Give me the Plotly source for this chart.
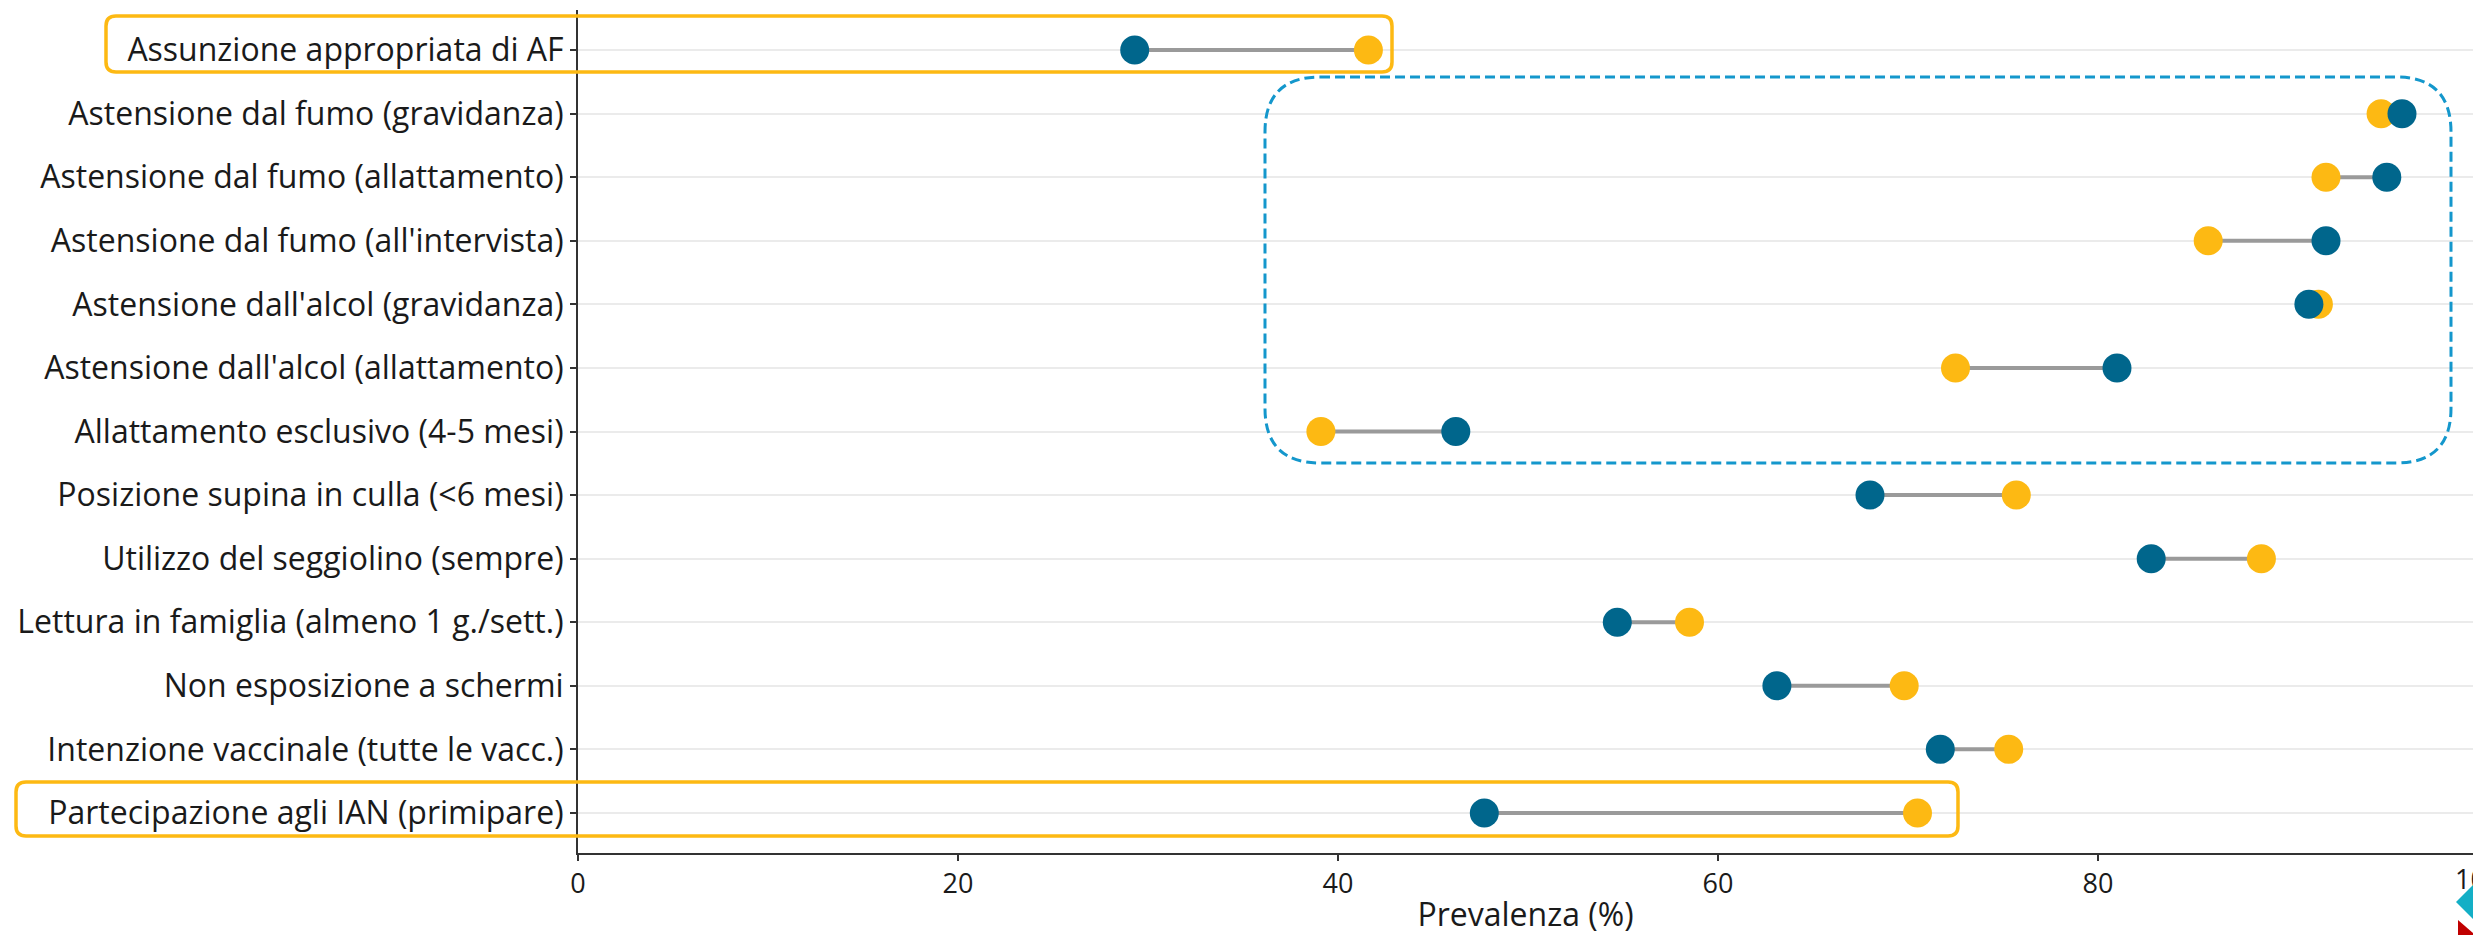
import plotly.graph_objects as go

# ---------------- data ----------------
categories = [
    "Assunzione appropriata di AF",
    "Astensione dal fumo (gravidanza)",
    "Astensione dal fumo (allattamento)",
    "Astensione dal fumo (all'intervista)",
    "Astensione dall'alcol (gravidanza)",
    "Astensione dall'alcol (allattamento)",
    "Allattamento esclusivo (4-5 mesi)",
    "Posizione supina in culla (<6 mesi)",
    "Utilizzo del seggiolino (sempre)",
    "Lettura in famiglia (almeno 1 g./sett.)",
    "Non esposizione a schermi",
    "Intenzione vaccinale (tutte le vacc.)",
    "Partecipazione agli IAN (primipare)",
]
serie_blu = [29.3, 96.0, 95.2, 92.0, 91.1, 81.0, 46.2, 68.0, 82.8, 54.7, 63.1, 71.7, 47.7]
serie_arancio = [41.6, 94.9, 92.0, 85.8, 91.6, 72.5, 39.1, 75.7, 88.6, 58.5, 69.8, 75.3, 70.5]
x_ticks = [0, 20, 40, 60, 80]
x_title = "Prevalenza (%)"

# ---------------- style / geometry ----------------
W, H = 2473, 935
ML, MR, MT, MB = 578, 0, 10, 82
PX_PER_UNIT = 19.0
BLUE = "#00668C"
ORANGE = "#FDB913"
FONT = "Open Sans"
TXT = "#1a1a1a"

pw = W - ML - MR
ph = H - MT - MB


def to_paper(x, y):
    return (x - ML) / pw, (H - MB - y) / ph


def rrect_path(x0, y0, x1, y1, r):
    pts = [
        ("M", [(x0 + r, y0)]),
        ("L", [(x1 - r, y0)]),
        ("Q", [(x1, y0), (x1, y0 + r)]),
        ("L", [(x1, y1 - r)]),
        ("Q", [(x1, y1), (x1 - r, y1)]),
        ("L", [(x0 + r, y1)]),
        ("Q", [(x0, y1), (x0, y1 - r)]),
        ("L", [(x0, y0 + r)]),
        ("Q", [(x0, y0), (x0 + r, y0)]),
    ]
    s = ""
    for cmd, pl in pts:
        s += cmd + " " + " ".join("%.5f,%.5f" % to_paper(px, py) for px, py in pl) + " "
    return s + "Z"


def poly_path(points):
    s = ""
    for k, (px, py) in enumerate(points):
        s += ("M " if k == 0 else "L ") + "%.5f,%.5f " % to_paper(px, py)
    return s + "Z"


ypos = list(range(len(categories)))

# connecting segments
seg_x, seg_y = [], []
for i, (b, o) in enumerate(zip(serie_blu, serie_arancio)):
    seg_x += [b, o, None]
    seg_y += [i, i, None]

fig = go.Figure()
fig.add_trace(go.Scatter(x=seg_x, y=seg_y, mode="lines",
                         line=dict(color="#9A9A9A", width=4),
                         showlegend=False, hoverinfo="skip"))
fig.add_trace(go.Scatter(x=serie_arancio, y=ypos, mode="markers", name="Gruppo 2",
                         marker=dict(color=ORANGE, size=29, line=dict(width=0)),
                         showlegend=False))
fig.add_trace(go.Scatter(x=serie_blu, y=ypos, mode="markers", name="Gruppo 1",
                         marker=dict(color=BLUE, size=29, line=dict(width=0)),
                         showlegend=False))

x_max = (W - ML - MR) / PX_PER_UNIT

shapes = [
    dict(type="path", xref="paper", yref="paper",
         path=rrect_path(106, 16, 1392, 72, 10),
         line=dict(color=ORANGE, width=3.5)),
    dict(type="path", xref="paper", yref="paper",
         path=rrect_path(16, 782, 1958, 836, 10),
         line=dict(color=ORANGE, width=3.5)),
    dict(type="path", xref="paper", yref="paper",
         path=rrect_path(1265, 77, 2451, 463, 55),
         line=dict(color="#1497CC", width=3, dash="10px,5px")),
    # fragment of logo at the bottom-right corner
    dict(type="path", xref="paper", yref="paper",
         path=poly_path([(2456, 902), (2475, 883), (2494, 902), (2475, 921)]),
         fillcolor="#13AFC6", line=dict(width=0)),
    dict(type="path", xref="paper", yref="paper",
         path=poly_path([(2458, 920), (2473, 933), (2473, 935), (2458, 935)]),
         fillcolor="#C00000", line=dict(width=0)),
]

fig.update_layout(
    width=W, height=H,
    margin=dict(l=ML, r=MR, t=MT, b=MB, pad=0),
    paper_bgcolor="white", plot_bgcolor="white",
    font=dict(family=FONT, color=TXT, size=32),
    shapes=shapes,
    annotations=[
        dict(text="100", xref="paper", yref="paper",
             x=(100 * PX_PER_UNIT) / pw, y=to_paper(0, 878)[1],
             xanchor="center", yanchor="middle", showarrow=False,
             font=dict(size=27, color=TXT, family=FONT)),
    ],
)

fig.update_xaxes(
    range=[0, x_max], tickvals=x_ticks, ticktext=[str(v) for v in x_ticks],
    showgrid=False, zeroline=False,
    showline=True, linecolor="#333333", linewidth=2,
    ticks="outside", ticklen=6, tickwidth=2, tickcolor="#333333",
    tickfont=dict(size=27, color=TXT, family=FONT),
    title=dict(text=x_title, font=dict(size=32, color=TXT, family=FONT), standoff=5),
)
fig.update_yaxes(
    range=[len(categories) - 1 + 0.63, -0.63],
    tickmode="array", tickvals=ypos, ticktext=categories,
    showgrid=True, gridcolor="#EBEBEB", gridwidth=2,
    zeroline=False,
    showline=True, linecolor="#333333", linewidth=2,
    ticks="outside", ticklen=6, tickwidth=2, tickcolor="#333333",
    tickfont=dict(size=32, color=TXT, family=FONT),
)

fig.write_html(
    "out.html",
    config={"displayModeBar": False},
    post_script="document.body.style.margin='0px';document.body.style.overflow='hidden';",
)
